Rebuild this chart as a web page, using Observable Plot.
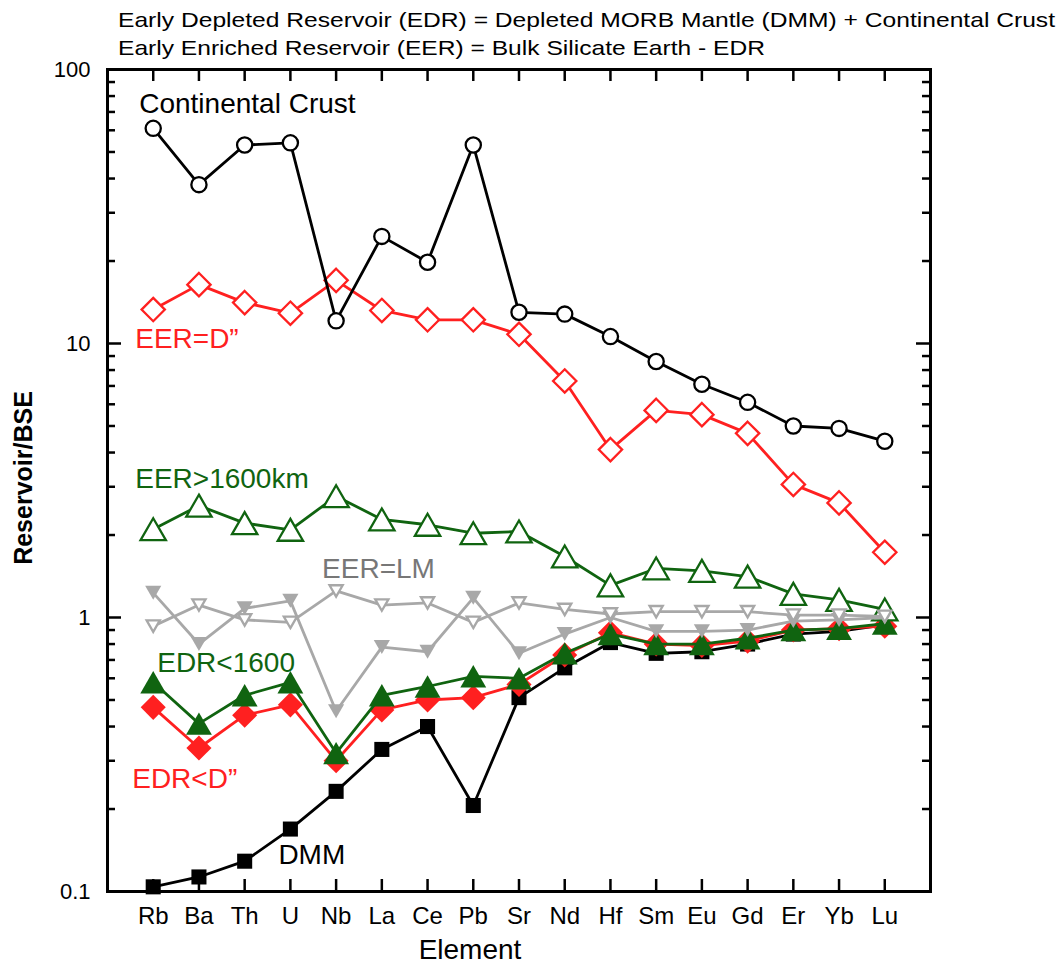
<!DOCTYPE html>
<html>
<head>
<meta charset="utf-8">
<script src="https://cdn.jsdelivr.net/npm/d3@7"></script>
<script src="https://cdn.jsdelivr.net/npm/@observablehq/plot@0.6"></script>
<style>
  html, body { margin: 0; padding: 0; background: #fff; }
  #chart svg { display: block; }
</style>
</head>
<body>
<div id="chart"></div>
<script>
// ---- data (Reservoir / BSE) ----
const elements = ["Rb","Ba","Th","U","Nb","La","Ce","Pb","Sr","Nd","Hf","Sm","Eu","Gd","Er","Yb","Lu"];
const crust   = [61, 38, 53, 54, 12.1, 24.6, 19.8, 53, 13.0, 12.8, 10.6, 8.6, 7.1, 6.1, 5.0, 4.9, 4.4];
const eerD    = [13.3, 16.4, 14.1, 12.9, 17.0, 13.2, 12.2, 12.2, 10.8, 7.3, 4.1, 5.7, 5.5, 4.7, 3.06, 2.62, 1.73];
const eer1600 = [2.10, 2.56, 2.21, 2.09, 2.77, 2.28, 2.18, 2.03, 2.06, 1.67, 1.31, 1.51, 1.48, 1.41, 1.22, 1.16, 1.07];
const eerLM   = [0.93, 1.11, 0.98, 0.96, 1.25, 1.11, 1.13, 0.96, 1.13, 1.07, 1.03, 1.05, 1.05, 1.05, 1.02, 1.02, 1.01];
const edrLM   = [1.23, 0.80, 1.08, 1.15, 0.455, 0.78, 0.75, 1.18, 0.74, 0.87, 1.0, 0.89, 0.89, 0.90, 0.97, 0.98, 1.0];
const edr1600 = [0.58, 0.41, 0.52, 0.58, 0.32, 0.52, 0.56, 0.61, 0.60, 0.74, 0.87, 0.80, 0.80, 0.84, 0.90, 0.91, 0.95];
const edrD    = [0.47, 0.334, 0.44, 0.48, 0.30, 0.46, 0.50, 0.51, 0.57, 0.73, 0.88, 0.80, 0.79, 0.82, 0.90, 0.91, 0.93];
const dmm     = [0.104, 0.113, 0.129, 0.169, 0.232, 0.33, 0.40, 0.206, 0.51, 0.655, 0.81, 0.74, 0.75, 0.80, 0.87, 0.89, 0.94];

const yTickValues = [0.1, 1, 10, 100];
const yMinorValues = [0.2,0.3,0.4,0.5,0.6,0.7,0.8,0.9,2,3,4,5,6,7,8,9,20,30,40,50,60,70,80,90];

const titleLines = [
  "Early Depleted Reservoir (EDR) = Depleted MORB Mantle (DMM) + Continental Crust",
  "Early Enriched Reservoir (EER) = Bulk Silicate Earth - EDR"
];
const xLabel = "Element";
const yLabel = "Reservoir/BSE";

// series labels: text, anchor element, anchor value
const labelTexts  = ["Continental Crust", "EER=D\u201D", "EER>1600km", "EER=LM", "EDR<1600", "EDR<D\u201D", "DMM"];
const labelEls    = ["Rb", "Rb", "Rb", "Nb", "Rb", "Rb", "U"];
const labelVals   = [75, 10.4, 3.2, 1.5, 0.68, 0.258, 0.136];

// ---- styles ----
const RED = "#ff2020", GREEN = "#106410", GRAY = "#a8a8a8", LABELGRAY = "#777777";

function triSym(dir) {
  return {draw(ctx, size) {
    const a = Math.sqrt(size * 4 / Math.sqrt(3));
    const h = a * Math.sqrt(3) / 2;
    ctx.moveTo(0, -dir * h / 2);
    ctx.lineTo(a / 2, dir * h / 2);
    ctx.lineTo(-a / 2, dir * h / 2);
    ctx.closePath();
  }};
}
const diamondSym = {draw(ctx, size) {
  const r = Math.sqrt(size) * 0.62625;
  ctx.moveTo(0, -r); ctx.lineTo(r, 0); ctx.lineTo(0, r); ctx.lineTo(-r, 0); ctx.closePath();
}};
const squareSym = {draw(ctx, size) {
  const s = Math.sqrt(size) / 2;
  ctx.rect(-s, -s, 2 * s, 2 * s);
}};

const rows = v => elements.map((el, i) => ({el, v: v[i]}));

const series = [
  {values: dmm,     color: "#000", sym: squareSym,  filled: true,  r: 8.5},
  {values: edrD,    color: RED,    sym: diamondSym, filled: true,  r: 11.3},
  {values: edr1600, color: GREEN,  sym: triSym(1),  filled: true,  r: 9.6},
  {values: eerD,    color: RED,    sym: diamondSym, filled: false, r: 10.5},
  {values: eer1600, color: GREEN,  sym: triSym(1),  filled: false, r: 9.4},
  {values: edrLM,   color: GRAY,   sym: triSym(-1), filled: true,  r: 6.0},
  {values: eerLM,   color: GRAY,   sym: triSym(-1), filled: false, r: 4.9},
  {values: crust,   color: "#000", sym: "circle",   filled: false, r: 7.6}
];

const labelColors = ["#000", RED, GREEN, LABELGRAY, GREEN, RED, "#000"];
const labelDx = [-14, -18, -18, -14, 4, -21, -12];

const mT = 69, mR = 132, mB = 73, mL = 107, W = 1062, H = 964;
const plotW = W - mL - mR, plotH = H - mT - mB;

const marks = [];
for (const s of series) {
  const data = rows(s.values);
  marks.push(Plot.line(data, {x: "el", y: "v", stroke: s.color, strokeWidth: 2.8}));
  marks.push(Plot.dot(data, {
    x: "el", y: "v", r: s.r, symbol: s.sym,
    fill: s.filled ? s.color : "white",
    stroke: s.color,
    strokeWidth: s.filled ? 0 : 2.3
  }));
}
labelTexts.forEach((t, i) => {
  marks.push(Plot.text([{el: labelEls[i], v: labelVals[i], t}], {
    x: "el", y: "v", text: "t", fill: labelColors[i], textAnchor: "start",
    dx: labelDx[i], fontSize: 28
  }));
});

// inward ticks
marks.push(Plot.tickX(elements, {x: d => d, insetTop: plotH - 12, strokeWidth: 2.5}));
marks.push(Plot.tickX(elements, {x: d => d, insetBottom: plotH - 12, strokeWidth: 2.5}));
marks.push(Plot.tickY(yTickValues, {y: d => d, insetRight: plotW - 14, strokeWidth: 2.5}));
marks.push(Plot.tickY(yTickValues, {y: d => d, insetLeft: plotW - 14, strokeWidth: 2.5}));
marks.push(Plot.tickY(yMinorValues, {y: d => d, insetRight: plotW - 8, strokeWidth: 2.5}));
marks.push(Plot.tickY(yMinorValues, {y: d => d, insetLeft: plotW - 8, strokeWidth: 2.5}));
marks.push(Plot.frame({stroke: "#000", strokeWidth: 3}));
marks.push(Plot.axisX({tickSize: 0, tickPadding: 15, label: null, fontSize: 24}));
marks.push(Plot.axisY({ticks: yTickValues, tickSize: 0, tickPadding: 17, label: null, fontSize: 22, tickFormat: d => String(d)}));

const chart = Plot.plot({
  width: W, height: H,
  marginTop: mT, marginRight: mR, marginBottom: mB, marginLeft: mL,
  x: {type: "point", domain: elements, padding: 1, round: false, axis: null},
  y: {type: "log", domain: [0.1, 100], axis: null},
  style: {fontFamily: "'Liberation Sans', Arial, sans-serif", fontSize: "22px", color: "#000", background: "#fff"},
  marks
});

const svg = d3.select(chart);
svg.append("text").attr("x", 118).attr("y", 27).attr("font-size", 21).attr("text-anchor", "start")
  .attr("textLength", 937).attr("lengthAdjust", "spacingAndGlyphs").attr("fill", "#000").text(titleLines[0]);
svg.append("text").attr("x", 118).attr("y", 55).attr("font-size", 21).attr("text-anchor", "start")
  .attr("textLength", 647).attr("lengthAdjust", "spacingAndGlyphs").attr("fill", "#000").text(titleLines[1]);
svg.append("text").attr("x", 470).attr("y", 959).attr("font-size", 28)
  .attr("text-anchor", "middle").attr("fill", "#000").text(xLabel);
svg.append("text").attr("transform", "translate(32,478) rotate(-90)").attr("font-size", 25)
  .attr("font-weight", "bold").attr("text-anchor", "middle").attr("fill", "#000").text(yLabel);

document.getElementById("chart").appendChild(chart);
</script>
</body>
</html>
